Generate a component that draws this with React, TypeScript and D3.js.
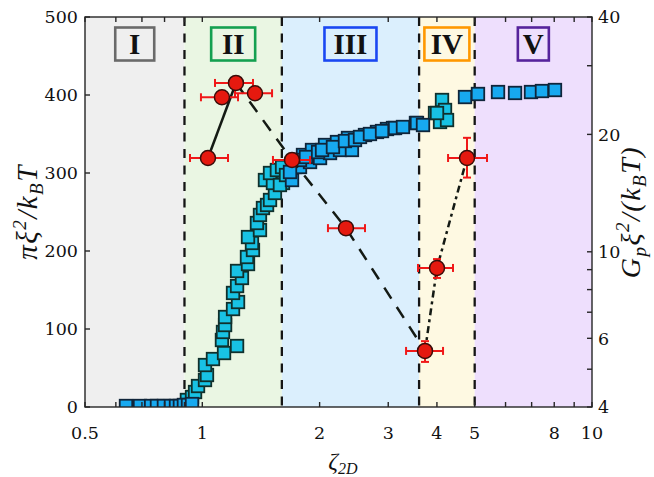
import React from "react";
import * as d3 from "d3";

// ---------- data ----------
const regionEdges = [0.5, 0.9, 1.6, 3.6, 5, 10];
const regionNames = ["I", "II", "III", "IV", "V"];

const xTickLabels = [0.5, 1, 2, 3, 4, 5, 8, 10];
const xMinorTicks = [0.6, 0.7, 0.8, 0.9, 6, 7, 9];
const yLeftTicks = [0, 100, 200, 300, 400, 500];
const yRightTicks = [4, 6, 10, 20, 40];
const yRightMinor = [5, 7, 8, 9, 30];

// squares (left axis) - cyan series
const sqCyanX = [0.913, 0.941, 0.958, 0.975, 1.016, 1.028, 1.016, 1.065, 1.137, 1.228, 1.123, 1.13, 1.144, 1.144, 1.199, 1.235, 1.199, 1.228, 1.264, 1.228, 1.31, 1.302, 1.349, 1.341, 1.31, 1.406, 1.381, 1.406, 1.431, 1.466, 1.492, 1.536, 1.448, 1.518, 1.611, 1.65, 1.492, 1.554, 1.602, 1.582, 1.64, 3.955, 4.074, 4.122, 4.196, 4.246, 4.002];
const sqCyanY = [9, 12.8, 19.2, 26.9, 34.6, 41, 53.8, 61.5, 69.2, 78.2, 85.9, 96.2, 105.1, 115.4, 125.6, 134.6, 146.2, 155.1, 165.4, 174.4, 183.3, 192.3, 201.3, 210.3, 217.9, 226.9, 235.9, 246.2, 255.1, 259, 265.4, 274.4, 291, 287.2, 287.2, 293.6, 300, 303.8, 307.7, 284.6, 297.4, 376.9, 365.4, 393.6, 380.8, 367.9, 376.9];
// squares (left axis) - blue series
const sqBlueX = [0.637, 0.692, 0.739, 0.765, 0.797, 0.831, 0.856, 0.876, 0.897, 0.919, 0.941, 1.699, 1.73, 1.781, 1.813, 1.89, 1.912, 2.005, 2.065, 2.127, 2.216, 2.256, 2.365, 2.421, 2.615, 2.807, 2.978, 3.086, 3.123, 3.273, 3.534, 3.555, 3.684, 1.679, 1.781, 1.845, 1.982, 2.029, 2.164, 2.323, 2.465, 2.539, 2.693, 2.892, 4.722, 5.098, 5.739, 6.346, 6.973, 7.44, 8.035];
const sqBlueY = [1.3, 1.3, 1.3, 1.3, 1.3, 1.3, 1.3, 1.3, 2.6, 2.6, 3.8, 291, 307.7, 307.7, 323.1, 314.1, 329.5, 319.2, 335.9, 325.6, 339.7, 329.5, 344.9, 329.5, 348.7, 352.6, 356.4, 357.7, 357.7, 359, 364.1, 364.1, 361.5, 301.3, 316.7, 320.5, 326.9, 329.5, 333.3, 341, 342.3, 346.2, 350, 353.8, 397.4, 401.3, 403.8, 402.6, 403.8, 405.1, 406.4];

// circles (right axis) with error bars
const gpX = [1.034, 1.123, 1.22, 1.365, 1.699, 2.337, 3.728, 4.002, 4.778];
const gpY = [17.4, 24.9, 27.1, 25.5, 17.2, 11.5, 5.57, 9.09, 17.4];
const gpXlo = [0.93, 0.992, 1.078, 1.213, 1.518, 2.101, 3.333, 3.577, 4.272];
const gpXhi = [1.164, 1.235, 1.349, 1.51, 1.89, 2.615, 4.147, 4.399, 5.377];
const gpYlo = [16.8, 24.1, 26.2, 24.7, 16.6, 11.1, 5.22, 8.57, 15.5];
const gpYhi = [18.0, 25.7, 28.0, 26.3, 17.8, 11.9, 5.9, 9.58, 19.6];
const solidIdx = [0, 2];
const dashedIdx = [2, 4, 5, 6];
const dashDotIdx = [6, 7, 8];

// ---------- styles ----------
const W = 654, H = 477;
const PL = 85, PR = 592, PT = 17, PB = 407;
const regionFills = ["#efefef", "#eaf6e3", "#dbeffd", "#fef9e2", "#eedffd"];
const regionBorders = ["#6a6a6a", "#14a050", "#1a47f2", "#ff9800", "#56239c"];
const boxWidths = [39, 44, 52, 45, 31];
const tickFont = "'DejaVu Serif', serif";
const mathFont = "'Liberation Serif', 'DejaVu Serif', serif";
const axisColor = "#262626";

export default function App() {
  const x = d3.scaleLog().domain([0.5, 10]).range([PL, PR]);
  const yL = d3.scaleLinear().domain([0, 500]).range([PB, PT]);
  const yR = d3.scaleLog().domain([4, 40]).range([PB, PT]);

  const sqSize = 12.5;
  const cyan = sqCyanX.map((v, i) => ({ x: v, y: sqCyanY[i] }));
  const blue = sqBlueX.map((v, i) => ({ x: v, y: sqBlueY[i] }));

  const lineGen = d3
    .line<number>()
    .x((i) => x(gpX[i]))
    .y((i) => yR(gpY[i]));

  const tickLen = 5;
  const fmt = (v: number) => String(v);

  return (
    <svg width={W} height={H} style={{ display: "block", position: "absolute", left: 0, top: 0 }}>
      <defs>
        <clipPath id="plotClip">
          <rect x={PL} y={PT} width={PR - PL} height={PB - PT} />
        </clipPath>
      </defs>
      <rect x={0} y={0} width={W} height={H} fill="#ffffff" />
      {regionNames.map((n, i) => (
        <rect
          key={"bg" + n}
          x={x(regionEdges[i])}
          y={PT}
          width={x(regionEdges[i + 1]) - x(regionEdges[i])}
          height={PB - PT}
          fill={regionFills[i]}
        />
      ))}
      {regionNames.map((n, i) => {
        const cx = (x(regionEdges[i]) + x(regionEdges[i + 1])) / 2;
        return (
          <g key={"lab" + n}>
            <rect
              x={cx - boxWidths[i] / 2}
              y={27.5}
              width={boxWidths[i]}
              height={33}
              fill="none"
              stroke={regionBorders[i]}
              strokeWidth={2.6}
            />
            <text x={cx} y={54} textAnchor="middle" fontFamily={mathFont} fontWeight="bold" fontSize={29} fill="#111">
              {n}
            </text>
          </g>
        );
      })}
      {regionEdges.slice(1, -1).map((e) => (
        <line
          key={"b" + e}
          x1={x(e)}
          x2={x(e)}
          y1={PT}
          y2={PB}
          stroke="#151515"
          strokeWidth={2.3}
          strokeDasharray="9,7.5"
        />
      ))}
      <g clipPath="url(#plotClip)">
        {cyan.map((d, i) => (
          <rect
            key={"c" + i}
            x={x(d.x) - sqSize / 2}
            y={yL(d.y) - sqSize / 2}
            width={sqSize}
            height={sqSize}
            fill="#18c2e4"
            stroke="#10302c"
            strokeWidth={1.8}
          />
        ))}
        {blue.map((d, i) => (
          <rect
            key={"b" + i}
            x={x(d.x) - sqSize / 2}
            y={yL(d.y) - sqSize / 2}
            width={sqSize}
            height={sqSize}
            fill="#17a9f0"
            stroke="#10253a"
            strokeWidth={1.8}
          />
        ))}
      </g>
      <path d={lineGen(solidIdx) || ""} fill="none" stroke="#141a14" strokeWidth={2.5} />
      <path d={lineGen(dashedIdx) || ""} fill="none" stroke="#141a14" strokeWidth={2.5} strokeDasharray="13,10" />
      <path d={lineGen(dashDotIdx) || ""} fill="none" stroke="#141a14" strokeWidth={2.5} strokeDasharray="7,4,3,4" />
      {gpX.map((v, i) => {
        const cx = x(v), cy = yR(gpY[i]);
        const xl = x(gpXlo[i]), xh = x(gpXhi[i]);
        const yl = yR(gpYlo[i]), yh = yR(gpYhi[i]);
        const c = 4;
        return (
          <g key={"e" + i} stroke="#f01818" strokeWidth={2}>
            <line x1={xl} x2={xh} y1={cy} y2={cy} />
            <line x1={xl} x2={xl} y1={cy - c} y2={cy + c} />
            <line x1={xh} x2={xh} y1={cy - c} y2={cy + c} />
            <line x1={cx} x2={cx} y1={yl} y2={yh} />
            <line x1={cx - c} x2={cx + c} y1={yl} y2={yl} />
            <line x1={cx - c} x2={cx + c} y1={yh} y2={yh} />
          </g>
        );
      })}
      {gpX.map((v, i) => (
        <circle key={"p" + i} cx={x(v)} cy={yR(gpY[i])} r={7.5} fill="#e5190f" stroke="#3a0d0a" strokeWidth={1.5} />
      ))}
      <rect x={PL} y={PT} width={PR - PL} height={PB - PT} fill="none" stroke={axisColor} strokeWidth={1.4} />
      {[...xTickLabels, ...xMinorTicks].map((t) => (
        <g key={"xt" + t} stroke={axisColor} strokeWidth={1.4}>
          <line x1={x(t)} x2={x(t)} y1={PB} y2={PB - tickLen} />
          <line x1={x(t)} x2={x(t)} y1={PT} y2={PT + tickLen} />
        </g>
      ))}
      {xTickLabels.map((t) => (
        <text key={"xl" + t} x={x(t)} y={439} textAnchor="middle" fontFamily={tickFont} fontSize={17.5} fill="#111">
          {fmt(t)}
        </text>
      ))}
      {yLeftTicks.map((t) => (
        <g key={"yl" + t}>
          <line x1={PL} x2={PL + tickLen} y1={yL(t)} y2={yL(t)} stroke={axisColor} strokeWidth={1.4} />
          <text x={78} y={yL(t)} dy="0.36em" textAnchor="end" fontFamily={tickFont} fontSize={17.5} fill="#111">
            {fmt(t)}
          </text>
        </g>
      ))}
      {[...yRightTicks, ...yRightMinor].map((t) => (
        <line key={"yrt" + t} x1={PR} x2={PR - tickLen} y1={yR(t)} y2={yR(t)} stroke={axisColor} strokeWidth={1.4} />
      ))}
      {yRightTicks.map((t) => (
        <text key={"yrl" + t} x={598} y={yR(t)} dy="0.36em" textAnchor="start" fontFamily={tickFont} fontSize={17.5} fill="#111">
          {fmt(t)}
        </text>
      ))}
      <text x={343} y={469} textAnchor="middle" fontFamily={mathFont} fontStyle="italic" fontSize={24} fill="#111">
        ζ<tspan fontSize={16} dy={5}>2D</tspan>
      </text>
      <text
        transform={`translate(37, ${(PT + PB) / 2}) rotate(-90)`}
        textAnchor="middle"
        fontFamily={mathFont}
        fontStyle="italic"
        fontSize={29}
        letterSpacing={1.5}
        fill="#111"
      >
        πξ<tspan fontSize={19} dy={-11}>2</tspan>
        <tspan dy={11}>/k</tspan>
        <tspan fontSize={19} dy={6}>B</tspan>
        <tspan dy={-6}>T</tspan>
      </text>
      <text
        transform={`translate(640, ${(PT + PB) / 2}) rotate(-90)`}
        textAnchor="middle"
        fontFamily={mathFont}
        fontStyle="italic"
        fontSize={28}
        letterSpacing={1.5}
        fill="#111"
      >
        G<tspan fontSize={19} dy={6}>p</tspan>
        <tspan dy={-6}>ξ</tspan>
        <tspan fontSize={19} dy={-11}>2</tspan>
        <tspan dy={11}>/(k</tspan>
        <tspan fontSize={19} dy={6}>B</tspan>
        <tspan dy={-6}>T)</tspan>
      </text>
    </svg>
  );
}
